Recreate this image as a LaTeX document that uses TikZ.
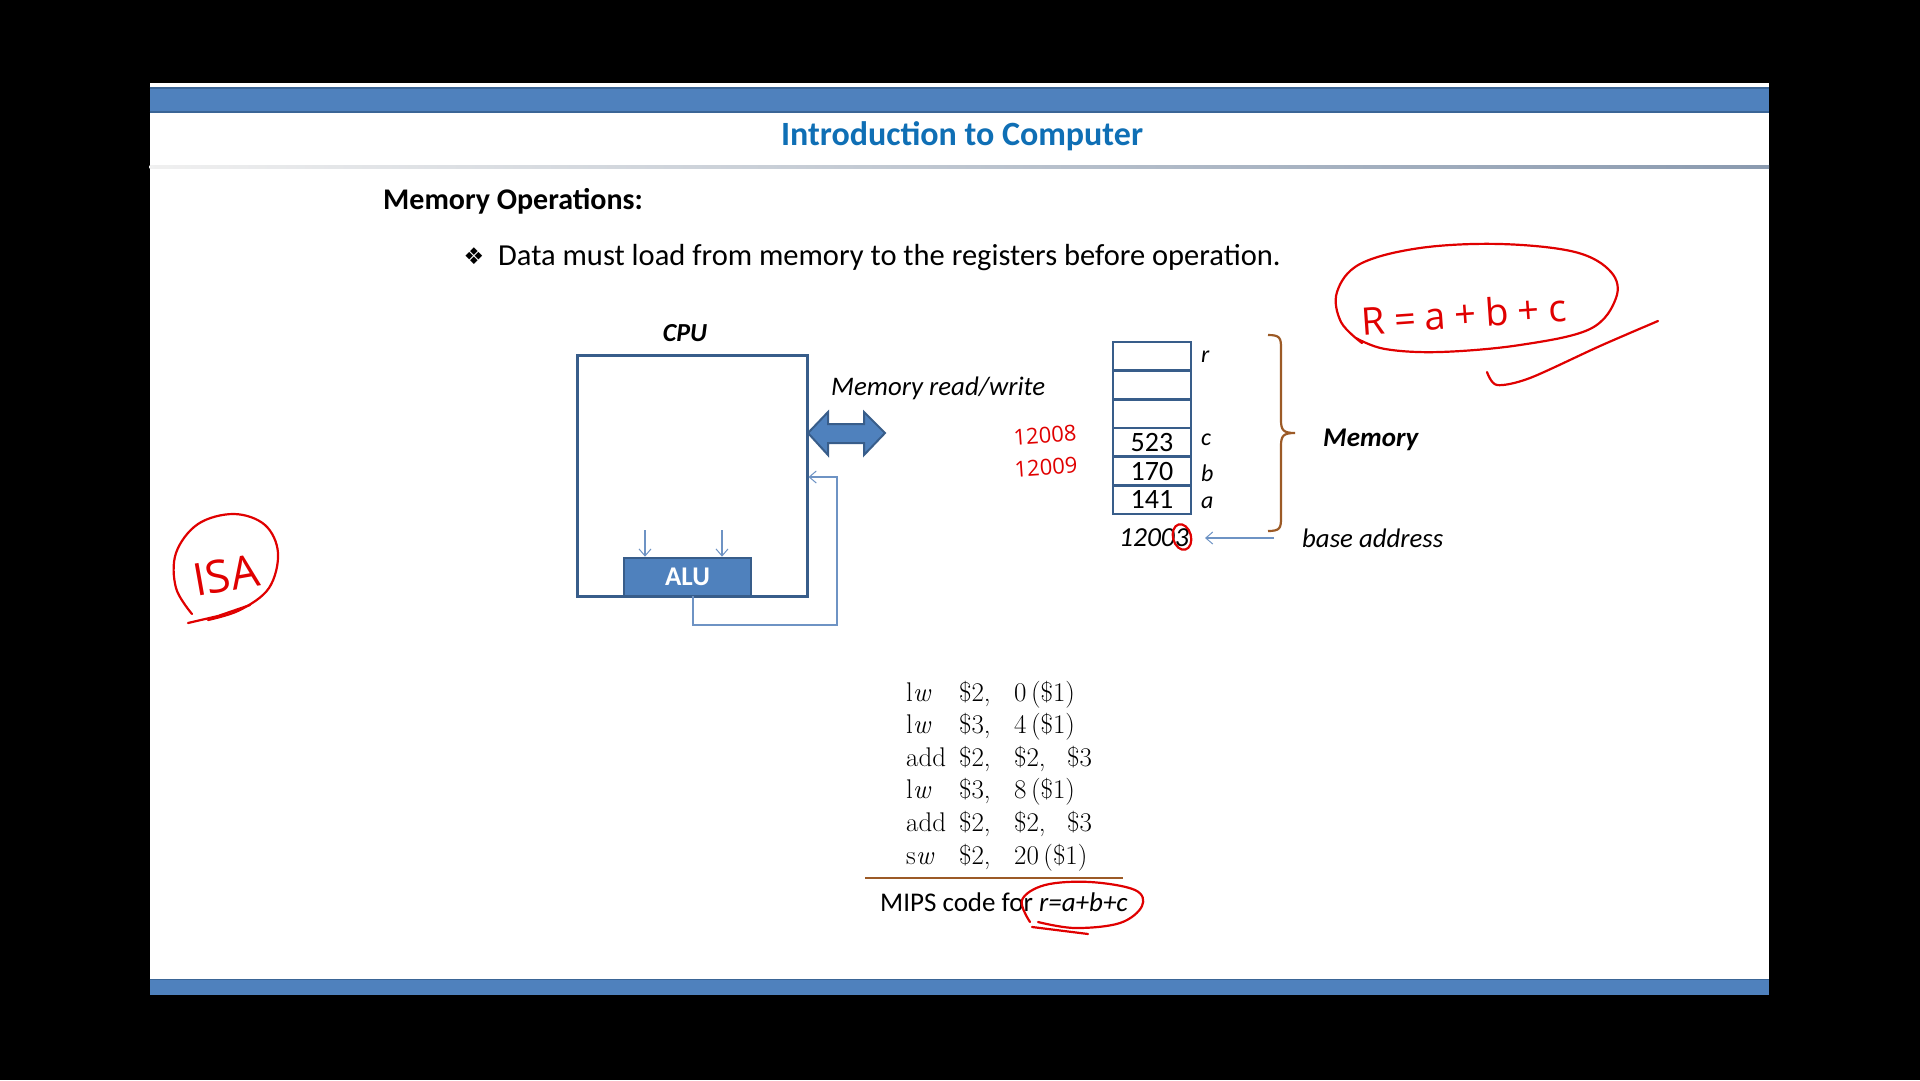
\documentclass[tikz,border=0pt]{standalone}
\usepackage{fontspec}
\setmainfont{Carlito}
\newfontfamily\codefont{Latin Modern Roman}
\newfontfamily\handfont{Open Sans}
\newfontfamily\symfont{DejaVu Sans}
\usetikzlibrary{arrows.meta}

\definecolor{barblue}{HTML}{4F81BD}
\definecolor{baredge}{HTML}{3A6596}
\definecolor{boxline}{HTML}{385D8A}
\definecolor{titleblue}{HTML}{0F6FB5}
\definecolor{thinblue}{HTML}{6E93C4}
\definecolor{bracebrown}{HTML}{9C5A26}
\definecolor{inkred}{HTML}{E00000}
\definecolor{rulegray}{HTML}{8A9AAF}

\tikzset{
  txt/.style={inner sep=0pt, font=\fontsize{25}{30}\selectfont},
  cellbox/.style={draw=boxline, line width=2.6pt, fill=white, minimum width=78pt,
    minimum height=28.7pt, inner sep=0pt, font=\fontsize{28}{30}\selectfont},
  thinarrow/.style={draw=thinblue, line width=1.1pt,
    -{Straight Barb[length=7pt, width=12pt, line width=1pt]}},
  ink/.style={draw=inkred, line width=2.2pt, line cap=round, line join=round},
  handtxt/.style={inner sep=0pt, text=inkred, font=\handfont}
}

\begin{document}
\begin{tikzpicture}[x=1pt, y=-1pt]
  \useasboundingbox (0,0) rectangle (1920,1080);
  \fill[black] (0,0) rectangle (1920,1080);

  % slide page
  \fill[white] (149.5,83) rectangle (1769,979);
  % top and bottom bars
  \fill[barblue] (149.5,87) rectangle (1769,113);
  \draw[baredge, line width=2pt] (149.5,88) -- (1769,88);
  \draw[baredge, line width=2pt] (149.5,112) -- (1769,112);
  \fill[barblue] (149.5,979) rectangle (1769,995);
  \draw[baredge, line width=1.5pt] (149.5,979.5) -- (1769,979.5);
  % rule under the title
  \shade[left color=gray!12, right color=rulegray] (149.5,165.8) rectangle (1769,168.2);

  % headings
  \node[inner sep=0pt, text=titleblue, font=\fontsize{34}{40}\selectfont\bfseries] (title) at (962,136) {Introduction to Computer};
  \node[inner sep=0pt, anchor=west, font=\fontsize{30}{36}\selectfont\bfseries] (heading) at (383,201) {Memory Operations:};
  \node[inner sep=0pt, font=\fontsize{23}{26}\selectfont\symfont] (bullet) at (474,256) {❖};
  \node[inner sep=0pt, anchor=west, font=\fontsize{30.5}{36}\selectfont] (point) at (498,258) {Data must load from memory to the registers before operation.};

  % CPU with its ALU
  \node[draw=boxline, line width=3pt, minimum width=230pt, minimum height=241pt, inner sep=0pt] (cpu) at (692,475.5) {};
  \node[txt, font=\fontsize{26}{30}\selectfont\bfseries\itshape] (cpulabel) at (685,333) {CPU};
  \node[draw=boxline, line width=2.6pt, fill=barblue, minimum width=127pt, minimum height=38pt, inner sep=0pt,
        text=white, font=\fontsize{27}{30}\selectfont\bfseries] (alu) at (687.5,577) {ALU};
  \coordinate (inA) at (645,530);
  \coordinate (inB) at (722,530);
  \draw[thinarrow] (inA) -- (inA |- alu.north);
  \draw[thinarrow] (inB) -- (inB |- alu.north);
  \coordinate (fbout) at (693,596);
  \coordinate (fbcorner) at (837,477);
  \draw[thinarrow] (fbout) -- (693,625) -| (fbcorner) -- (fbcorner -| cpu.east);

  % memory read/write arrow
  \fill[barblue, draw=boxline, line width=2pt, line join=miter]
    (808,433) -- (828,412) -- (828,424) -- (864,424) -- (864,412) -- (885,433)
    -- (864,455) -- (864,443) -- (828,443) -- (828,455) -- cycle;
  \node[txt, anchor=west, font=\fontsize{26.8}{30}\selectfont\itshape] (rw) at (831,388) {Memory read/write};

  % memory cells
  \node[cellbox] (m1) at (1152,356.3) {};
  \node[cellbox] (m2) at (1152,385.0) {};
  \node[cellbox] (m3) at (1152,413.7) {};
  \node[cellbox] (m4) at (1152,442.4) {523};
  \node[cellbox] (m5) at (1152,471.1) {170};
  \node[cellbox] (m6) at (1152,499.8) {141};
  \node[txt, anchor=west, font=\fontsize{24}{30}\selectfont\itshape] (lr) at (1201,357) {r};
  \node[txt, anchor=west, font=\fontsize{24}{30}\selectfont\itshape] (lc) at (1201,440) {c};
  \node[txt, anchor=west, font=\fontsize{24}{30}\selectfont\itshape] (lb) at (1201,473) {b};
  \node[txt, anchor=west, font=\fontsize{24}{30}\selectfont\itshape] (la) at (1201,503) {a};

  % brace for the memory
  \draw[bracebrown, line width=2.2pt]
    (1268,335) .. controls (1280,335) and (1281,338) .. (1281,348)
    -- (1281,420) .. controls (1281,430) and (1283,433) .. (1295,433)
    .. controls (1283,433) and (1281,436) .. (1281,446)
    -- (1281,518) .. controls (1281,528) and (1280,531) .. (1268,531);
  \node[txt, anchor=west, font=\fontsize{27}{30}\selectfont\bfseries\itshape] (memlabel) at (1323,440) {Memory};

  % base address
  \node[txt, anchor=east, font=\fontsize{27.5}{30}\selectfont\itshape] (addr) at (1189,538) {12003};
  \node[txt, anchor=west, font=\fontsize{26.8}{30}\selectfont\itshape] (base) at (1302,538) {base address};
  \draw[thinarrow] (base.west) ++(-28,0) coordinate (bstart) -- (1205,538);

  % MIPS code
  \node[inner sep=0pt, anchor=north west, font=\codefont\fontsize{27}{32.6}\selectfont] (code) at (906,678) {%
    \begin{tabular}{@{}p{53pt}@{}p{55pt}@{}p{53pt}@{}l@{}}
      l\textit{w} & \$2, & 0\,(\$1) & \\
      l\textit{w} & \$3, & 4\,(\$1) & \\
      add & \$2, & \$2, & \$3 \\
      l\textit{w} & \$3, & 8\,(\$1) & \\
      add & \$2, & \$2, & \$3 \\
      s\textit{w} & \$2, & 20\,(\$1) & \\
    \end{tabular}};
  \coordinate (ruleL) at (865,878);
  \coordinate (ruleR) at (1123,878);
  \draw[bracebrown, line width=2.4pt] (ruleL) -- (ruleR);
  \node[txt, anchor=west, font=\fontsize{27}{30}\selectfont] (caption) at (880,902) {MIPS code for \textit{r=a+b+c}};

  % handwritten notes
  \draw[ink] plot[smooth, tension=0.6] coordinates {(1362,343) (1341,322) (1337,292) (1360,264) (1420,248)
     (1500,244) (1575,252) (1611,272) (1616,298) (1590,329) (1520,345) (1440,352) (1385,349) (1356,338)};
  \node[handtxt, font=\handfont\fontsize{38}{40}\selectfont, rotate=4] (eqn) at (1464,314)
     {R\hspace{9pt}=\hspace{9pt}a\hspace{9pt}+\hspace{9pt}b\hspace{9pt}+\hspace{9pt}c};
  \draw[ink] plot[smooth, tension=0.5] coordinates {(1487,372) (1497,385) (1530,378) (1600,346) (1658,321)};

  \draw[ink] plot[smooth, tension=0.6] coordinates {(192,614) (176,588) (176,553) (198,524) (234,514)
     (265,525) (278,553) (269,588) (240,610) (208,620)};
  \draw[ink] (188,623) -- (218,616) -- (250,605);
  \node[handtxt, font=\handfont\fontsize{45}{48}\selectfont, rotate=10] (isa) at (226,575) {ISA};

  \node[handtxt, font=\handfont\fontsize{22}{24}\selectfont, rotate=4] (n1) at (1045,435) {12008};
  \node[handtxt, font=\handfont\fontsize{22}{24}\selectfont, rotate=4] (n2) at (1046,467) {12009};

  \draw[ink] (1182,537) ellipse[x radius=9pt, y radius=13pt, rotate=15];
  \draw[ink] plot[smooth, tension=0.6] coordinates {(1030,922) (1022,900) (1045,885) (1090,882)
     (1135,890) (1142,906) (1120,923) (1075,928) (1038,922)};
  \draw[ink] (1032,927) -- (1088,934);
\end{tikzpicture}
\end{document}
